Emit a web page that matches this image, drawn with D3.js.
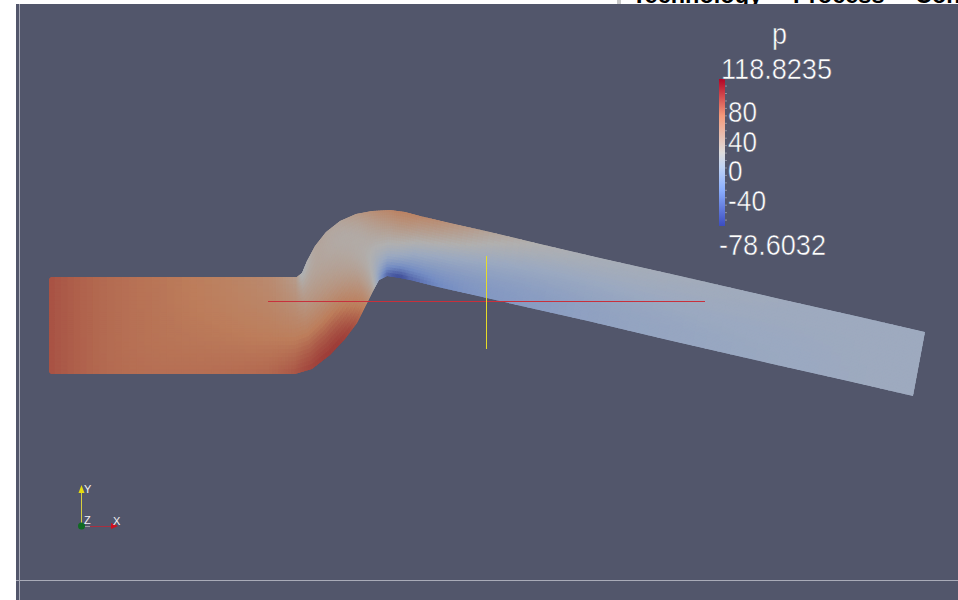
<!DOCTYPE html>
<html>
<head>
<meta charset="utf-8">
<script src="https://d3js.org/d3.v7.min.js"></script>
<style>
  html, body { margin: 0; padding: 0; background: #fff; }
  svg { display: block; }
  .lbl { font-family: "Liberation Sans", sans-serif; fill: #ffffff; stroke: #52566b; stroke-width: 0.5; }
</style>
</head>
<body>
<div id="chart"></div>
<script>
// pipe geometry in model units, one entry per station along the flow
var topX = [0, 5.1, 11.1, 17.1, 22.1, 24.8, 25.3, 25.8, 26.6, 27.7, 29.1, 30.7, 32.3, 34.1, 35.6, 37.1, 40.1, 44.1, 49.1, 55.1, 63.1, 73.1, 81.1, 87.6];
var topY = [9.7, 9.7, 9.7, 9.7, 9.7, 9.7, 10.1, 11.3, 12.8, 14.2, 15.3, 16.0, 16.3, 16.4, 16.2, 15.8, 15.1, 14.2, 13.0, 11.6, 9.8, 7.5, 5.7, 4.2];
var botX = [0, 5.1, 11.1, 17.1, 22.1, 24.6, 26.3, 28.1, 29.6, 30.8, 31.7, 32.4, 33.0, 33.8, 35.1, 36.1, 38.9, 42.9, 47.9, 53.9, 61.9, 71.9, 79.9, 86.4];
var botY = [0, 0, 0, 0, 0, 0, 0.5, 1.9, 3.5, 5.1, 6.9, 8.3, 9.4, 9.8, 9.6, 9.4, 8.7, 7.8, 6.65, 5.3, 3.4, 1.1, -0.7, -2.2];

// pressure, each row runs from the upper wall to the lower wall
var pressure = [
  [88, 88, 88, 88, 88, 88, 88],
  [77, 77, 77, 77, 77, 77, 77],
  [73, 73, 73, 73, 73, 74, 75],
  [66, 67, 68, 70, 72, 74, 76],
  [58, 60, 63, 66, 70, 74, 78],
  [40, 48, 54, 62, 70, 78, 86],
  [10, 32, 46, 58, 72, 86, 94],
  [18, 32, 42, 54, 70, 88, 98],
  [32, 30, 36, 48, 66, 86, 98],
  [30, 26, 32, 40, 56, 72, 88],
  [30, 24, 26, 30, 40, 54, 66],
  [42, 28, 24, 22, 24, 28, 36],
  [52, 40, 30, 22, 12, 4, -6],
  [62, 48, 34, 22, 6, -18, -56],
  [66, 52, 36, 20, 2, -24, -78],
  [62, 46, 30, 12, -6, -26, -56],
  [52, 38, 22, 4, -10, -22, -30],
  [32, 22, 10, -2, -10, -16, -18],
  [20, 12, 2, -5, -10, -14, -14],
  [12, 8, 2, -3, -6, -8, -8],
  [8, 6, 3, 0, -2, -3, -3],
  [4, 3, 2, 1, 0, -1, -1],
  [2, 2, 2, 2, 2, 2, 2],
  [3, 3, 3, 3, 3, 3, 3]
];

var pMin = -78.6032, pMax = 118.8235;
var barTicks = [80, 40, 0, -40];
var barMinor = [110, 100, 90, 80, 70, 60, 50, 40, 30, 20, 10, 0, -10, -20, -30, -40, -50, -60, -70];
var coolWarmAt = [0, 0.25, 0.4, 0.5, 0.75, 1];
var coolWarm = ["#3b4cc0", "#8db0fe", "#c0d4f5", "#dddcdc", "#f49a7b", "#b40426"];

var width = 958, height = 600;
var svg = d3.select("#chart").append("svg").attr("width", width).attr("height", height);

var x = d3.scaleLinear().domain([0, 100]).range([49, 1049]);
var y = d3.scaleLinear().domain([0, 10]).range([374, 274]);
var colorT = d3.scaleLinear().domain([pMin, pMax]).range([0, 1]);
var ramp = d3.scaleLinear().domain(coolWarmAt).range(coolWarm).interpolate(d3.interpolateRgb);
var warmth = d3.scaleLinear().domain([20, 70]).range([1, 0.88]).clamp(true);

// the surface is lit in the render, so the mesh is darker and duller than the colour bar
function litColor(p) {
  var c = d3.rgb(ramp(colorT(p)));
  var grey = 0.3 * c.r + 0.59 * c.g + 0.11 * c.b;
  var mix = 0.12;
  return d3.rgb(
    (c.r + (grey - c.r) * mix) * 0.8,
    (c.g + (grey - c.g) * mix) * 0.8,
    (c.b + (grey - c.b) * mix) * 0.8 * warmth(p)
  ).formatHex();
}

// background and page
svg.append("rect").attr("x", 16).attr("y", 4).attr("width", width - 16).attr("height", height - 4).attr("fill", "#52566b");
svg.append("line").attr("x1", 19.5).attr("x2", 19.5).attr("y1", 4).attr("y2", height).attr("stroke", "#a9abb8");
svg.append("line").attr("x1", 16).attr("x2", width).attr("y1", 580.5).attr("y2", 580.5).attr("stroke", "#a9abb8");

// clipped heading of the page behind the screenshot
var defs = svg.append("defs");
defs.append("clipPath").attr("id", "headClip").append("rect").attr("width", width).attr("height", 4);
var head = svg.append("g").attr("clip-path", "url(#headClip)");
head.append("rect").attr("x", 617).attr("y", 0).attr("width", 4).attr("height", 4).attr("fill", "#c8c8c8");
var headWords = [["Technology", 632], ["Process", 793], ["Consulting", 915]];
head.selectAll("text").data(headWords).enter().append("text")
  .attr("x", function(d) { return d[1]; })
  .attr("y", 3)
  .attr("font-family", "Liberation Sans")
  .attr("font-weight", "bold")
  .attr("font-size", 23.5)
  .attr("fill", "#000")
  .text(function(d) { return d[0]; });

// mesh, each station gap is split up so the colours run smooth
var rowFns = d3.range(pressure[0].length).map(function(r) {
  return d3.interpolateBasis(pressure.map(function(s) { return s[r]; }));
});
var subS = 8, subR = 4;
var nS = topX.length - 1, nR = pressure[0].length - 1;
var cells = [];

function wallPoint(i, f, t) {
  var j = Math.min(i + 1, nS);
  var tx = topX[i] + (topX[j] - topX[i]) * f, ty = topY[i] + (topY[j] - topY[i]) * f;
  var bx = botX[i] + (botX[j] - botX[i]) * f, by = botY[i] + (botY[j] - botY[i]) * f;
  return [x(tx + (bx - tx) * t), y(ty + (by - ty) * t)];
}

for (var i = 0; i < nS; i++) {
  for (var a = 0; a < subS; a++) {
    var f0 = a / subS, f1 = (a + 1) / subS, u = (i + (a + 0.5) / subS) / nS;
    var across = d3.interpolateBasis(rowFns.map(function(fn) { return fn(u); }));
    for (var b = 0; b < nR * subR; b++) {
      var t0 = b / (nR * subR), t1 = (b + 1) / (nR * subR);
      cells.push({
        pts: [wallPoint(i, f0, t0), wallPoint(i, f1, t0), wallPoint(i, f1, t1), wallPoint(i, f0, t1)],
        p: across((t0 + t1) / 2)
      });
    }
  }
}

// outline of the pipe clips the mesh, small corner cut at the inlet
var corner = 0.2;
var outline = [[corner, topY[0]]].concat(d3.range(1, nS + 1).map(function(i) { return [topX[i], topY[i]]; }))
  .concat(d3.range(nS, 0, -1).map(function(i) { return [botX[i], botY[i]]; }))
  .concat([[corner, botY[0]], [0, botY[0] + corner], [0, topY[0] - corner]]);
var outlinePath = d3.line().x(function(d) { return x(d[0]); }).y(function(d) { return y(d[1]); });
defs.append("clipPath").attr("id", "pipeClip").append("path").attr("d", outlinePath(outline) + "Z");

svg.append("g").attr("clip-path", "url(#pipeClip)").selectAll("polygon").data(cells).enter().append("polygon")
  .attr("points", function(d) { return d.pts.map(function(q) { return q[0].toFixed(2) + "," + q[1].toFixed(2); }).join(" "); })
  .attr("fill", function(d) { return litColor(d.p); })
  .attr("stroke", function(d) { return litColor(d.p); })
  .attr("stroke-width", 1.5);

// crosshair
svg.append("line").attr("x1", 268).attr("x2", 705).attr("y1", 301.5).attr("y2", 301.5).attr("stroke", "#c8303c").attr("stroke-width", 1);
svg.append("line").attr("x1", 486.5).attr("x2", 486.5).attr("y1", 256).attr("y2", 349).attr("stroke", "#e6dc28").attr("stroke-width", 1);

// colour bar
var barY = d3.scaleLinear().domain([pMax, pMin]).range([79, 226]);
var grad = defs.append("linearGradient").attr("id", "barGrad").attr("x1", 0).attr("x2", 0).attr("y1", 1).attr("y2", 0);
coolWarm.forEach(function(c, i) {
  grad.append("stop").attr("offset", coolWarmAt[i]).attr("stop-color", c);
});
svg.append("rect").attr("x", 719).attr("y", barY(pMax)).attr("width", 6).attr("height", barY(pMin) - barY(pMax)).attr("fill", "url(#barGrad)");

svg.append("g").selectAll("line").data(barMinor).enter().append("line")
  .attr("x1", 725).attr("x2", 727)
  .attr("y1", function(d) { return barY(d) + 0.5; })
  .attr("y2", function(d) { return barY(d) + 0.5; })
  .attr("stroke", "#8f92a0");

svg.append("g").selectAll("text").data(barTicks).enter().append("text")
  .attr("class", "lbl")
  .attr("x", 728)
  .attr("y", function(d) { return barY(d) + 14; })
  .attr("font-size", 30)
  .attr("textLength", function(d) { return d === 0 ? 14.5 : (d < 0 ? 38 : 29); })
  .attr("lengthAdjust", "spacingAndGlyphs")
  .text(function(d) { return d; });

svg.append("text").attr("class", "lbl").attr("x", 772).attr("y", 44).attr("font-size", 30).attr("textLength", 15).attr("lengthAdjust", "spacingAndGlyphs").text("p");
svg.append("text").attr("class", "lbl").attr("x", 721).attr("y", 79).attr("font-size", 30).attr("textLength", 111).attr("lengthAdjust", "spacingAndGlyphs").text("118.8235");
svg.append("text").attr("class", "lbl").attr("x", 719).attr("y", 255).attr("font-size", 30).attr("textLength", 107).attr("lengthAdjust", "spacingAndGlyphs").text("-78.6032");

// orientation triad
svg.append("line").attr("x1", 81.5).attr("x2", 81.5).attr("y1", 526).attr("y2", 490).attr("stroke", "#d8d040");
svg.append("line").attr("x1", 81.5).attr("x2", 90).attr("y1", 526.5).attr("y2", 526.5).attr("stroke", "#9a9aa4");
svg.append("line").attr("x1", 90).attr("x2", 113).attr("y1", 526.5).attr("y2", 526.5).attr("stroke", "#a83040");
svg.append("path").attr("d", "M81.5,485L84.5,493L78.5,493Z").attr("fill", "#e6dc10");
svg.append("path").attr("d", "M118,526L111,523L111,529Z").attr("fill", "#d01020");
svg.append("circle").attr("cx", 81.5).attr("cy", 526).attr("r", 3.5).attr("fill", "#0f6a22");
var triad = [["Y", 84, 493], ["Z", 84, 524], ["X", 113, 525]];
svg.append("g").selectAll("text").data(triad).enter().append("text")
  .attr("x", function(d) { return d[1]; })
  .attr("y", function(d) { return d[2]; })
  .attr("font-family", "Liberation Sans")
  .attr("fill", "#f2f2f4")
  .attr("font-size", 11)
  .text(function(d) { return d[0]; });
</script>
</body>
</html>
